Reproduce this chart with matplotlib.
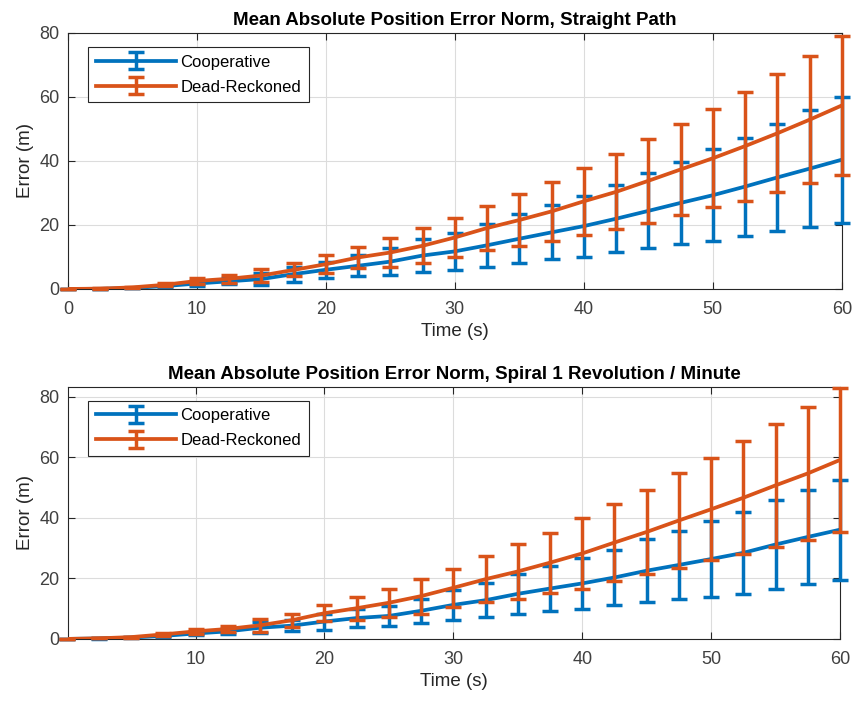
import numpy as np
import matplotlib
matplotlib.use("Agg")
import matplotlib.pyplot as plt

plt.rcParams['font.family'] = ['Liberation Sans', 'DejaVu Sans']

# time samples (s)
t = [0, 2.5, 5, 7.5, 10, 12.5, 15, 17.5, 20, 22.5, 25, 27.5, 30,
     32.5, 35, 37.5, 40, 42.5, 45, 47.5, 50, 52.5, 55, 57.5, 60]

# straight path: mean error and std
straight_coop = [0, 0.05, 0.3, 0.9, 1.7, 2.4, 3.1, 4.65, 6.0, 7.25, 8.55, 10.45, 11.75,
                 13.65, 15.7, 17.7, 19.65, 21.95, 24.4, 26.9, 29.3, 32.0, 34.85, 37.6, 40.4]
straight_coop_sd = [0, 0.02, 0.15, 0.4, 0.7, 1.0, 1.8, 2.35, 2.5, 3.35, 4.15, 5.05, 5.85,
                    6.65, 7.7, 8.4, 9.55, 10.55, 11.7, 12.9, 14.3, 15.3, 16.65, 18.3, 19.7]
straight_dr = [0, 0.1, 0.5, 1.3, 2.5, 3.2, 4.2, 5.95, 7.75, 9.85, 11.4, 13.5, 16.1,
               19.05, 21.55, 24.25, 27.4, 30.35, 33.8, 37.35, 40.85, 44.65, 48.65, 52.9, 57.35]
straight_dr_sd = [0, 0.05, 0.2, 0.5, 0.9, 1.2, 1.9, 2.05, 2.85, 3.35, 4.4, 5.5, 6.0,
                  6.85, 8.15, 9.15, 10.5, 11.75, 13.1, 14.25, 15.35, 17.05, 18.45, 19.9, 21.75]

# spiral path: mean error and std
spiral_coop = [0, 0.15, 0.45, 1.0, 1.8, 2.5, 3.7, 4.4, 5.75, 6.9, 7.6, 9.3, 11.25,
               12.8, 14.9, 16.65, 18.35, 20.3, 22.55, 24.45, 26.4, 28.45, 31.2, 33.7, 36.1]
spiral_coop_sd = [0, 0.05, 0.2, 0.4, 0.6, 0.9, 1.9, 1.8, 2.65, 3.1, 3.3, 4.0, 5.05,
                  5.7, 6.5, 7.45, 8.35, 9.2, 10.35, 11.15, 12.5, 13.45, 14.6, 15.6, 16.5]
spiral_dr = [0, 0.2, 0.6, 1.5, 2.5, 3.3, 4.5, 6.2, 8.5, 10.15, 11.95, 14.15, 16.9,
             19.75, 22.3, 25.2, 28.25, 31.85, 35.35, 39.15, 42.85, 46.65, 50.75, 54.7, 59.15]
spiral_dr_sd = [0, 0.05, 0.2, 0.5, 0.9, 1.1, 2.2, 2.2, 2.6, 3.75, 4.65, 5.75, 6.3,
                7.55, 9.0, 9.9, 11.65, 12.85, 13.95, 15.75, 16.85, 18.65, 20.35, 22.1, 23.85]

titles = ["Mean Absolute Position Error Norm, Straight Path",
          "Mean Absolute Position Error Norm, Spiral 1 Revolution / Minute"]

blue = '#0072BD'
orange = '#D95319'
axcol = '#262626'

fig = plt.figure(figsize=(8.57, 7.06), dpi=100)
ax1 = fig.add_axes([0.0793, 0.5907, 0.903, 0.3626])
ax2 = fig.add_axes([0.0793, 0.0950, 0.9008, 0.3570])

panels = [(ax1, straight_coop, straight_coop_sd, straight_dr, straight_dr_sd, (0, 60), (0, 80), range(0, 61, 10)),
          (ax2, spiral_coop, spiral_coop_sd, spiral_dr, spiral_dr_sd, (0.1, 60), (0, 83.3), range(10, 61, 10))]

for i, (ax, c, csd, d, dsd, xl, yl, xt) in enumerate(panels):
    for y, sd, col, lab, z in [(c, csd, blue, 'Cooperative', 3), (d, dsd, orange, 'Dead-Reckoned', 4)]:
        eb = ax.errorbar(t, y, yerr=sd, color=col, lw=2.7, elinewidth=2.5,
                         capsize=6, capthick=2.5, label=lab, zorder=z)
        for art in eb.lines[1] + eb.lines[2]:
            art.set_clip_on(False)
    ax.set_xlim(*xl)
    ax.set_ylim(*yl)
    ax.set_xticks(list(xt))
    ax.set_yticks(range(0, 81, 20))
    ax.grid(True, color='#dcdcdc', lw=0.8)
    ax.set_axisbelow(True)
    for sp in ax.spines.values():
        sp.set_color(axcol)
        sp.set_linewidth(0.8)
    ax.tick_params(direction='in', top=True, right=True, colors=axcol,
                   labelsize=13, length=5, width=0.8, labelcolor='#404040')
    ax.tick_params(axis='x', pad=9)
    ax.tick_params(axis='y', pad=6)
    ax.set_xlabel('Time (s)', fontsize=13.5, color=axcol, labelpad=3)
    ax.set_ylabel('Error (m)', fontsize=13.5, color=axcol, labelpad=4)
    ax.set_title(titles[i], fontsize=13.5, fontweight='bold', pad=6)
    leg = ax.legend(loc='upper left', bbox_to_anchor=(0.026, 0.945), fontsize=12,
                    frameon=True, fancybox=False, edgecolor=axcol, framealpha=1,
                    handlelength=4.8, borderpad=0.45, labelspacing=0.6, handletextpad=0.3,
                    borderaxespad=0)
    leg.get_frame().set_linewidth(0.8)

fig.savefig('out.png', dpi=100)
